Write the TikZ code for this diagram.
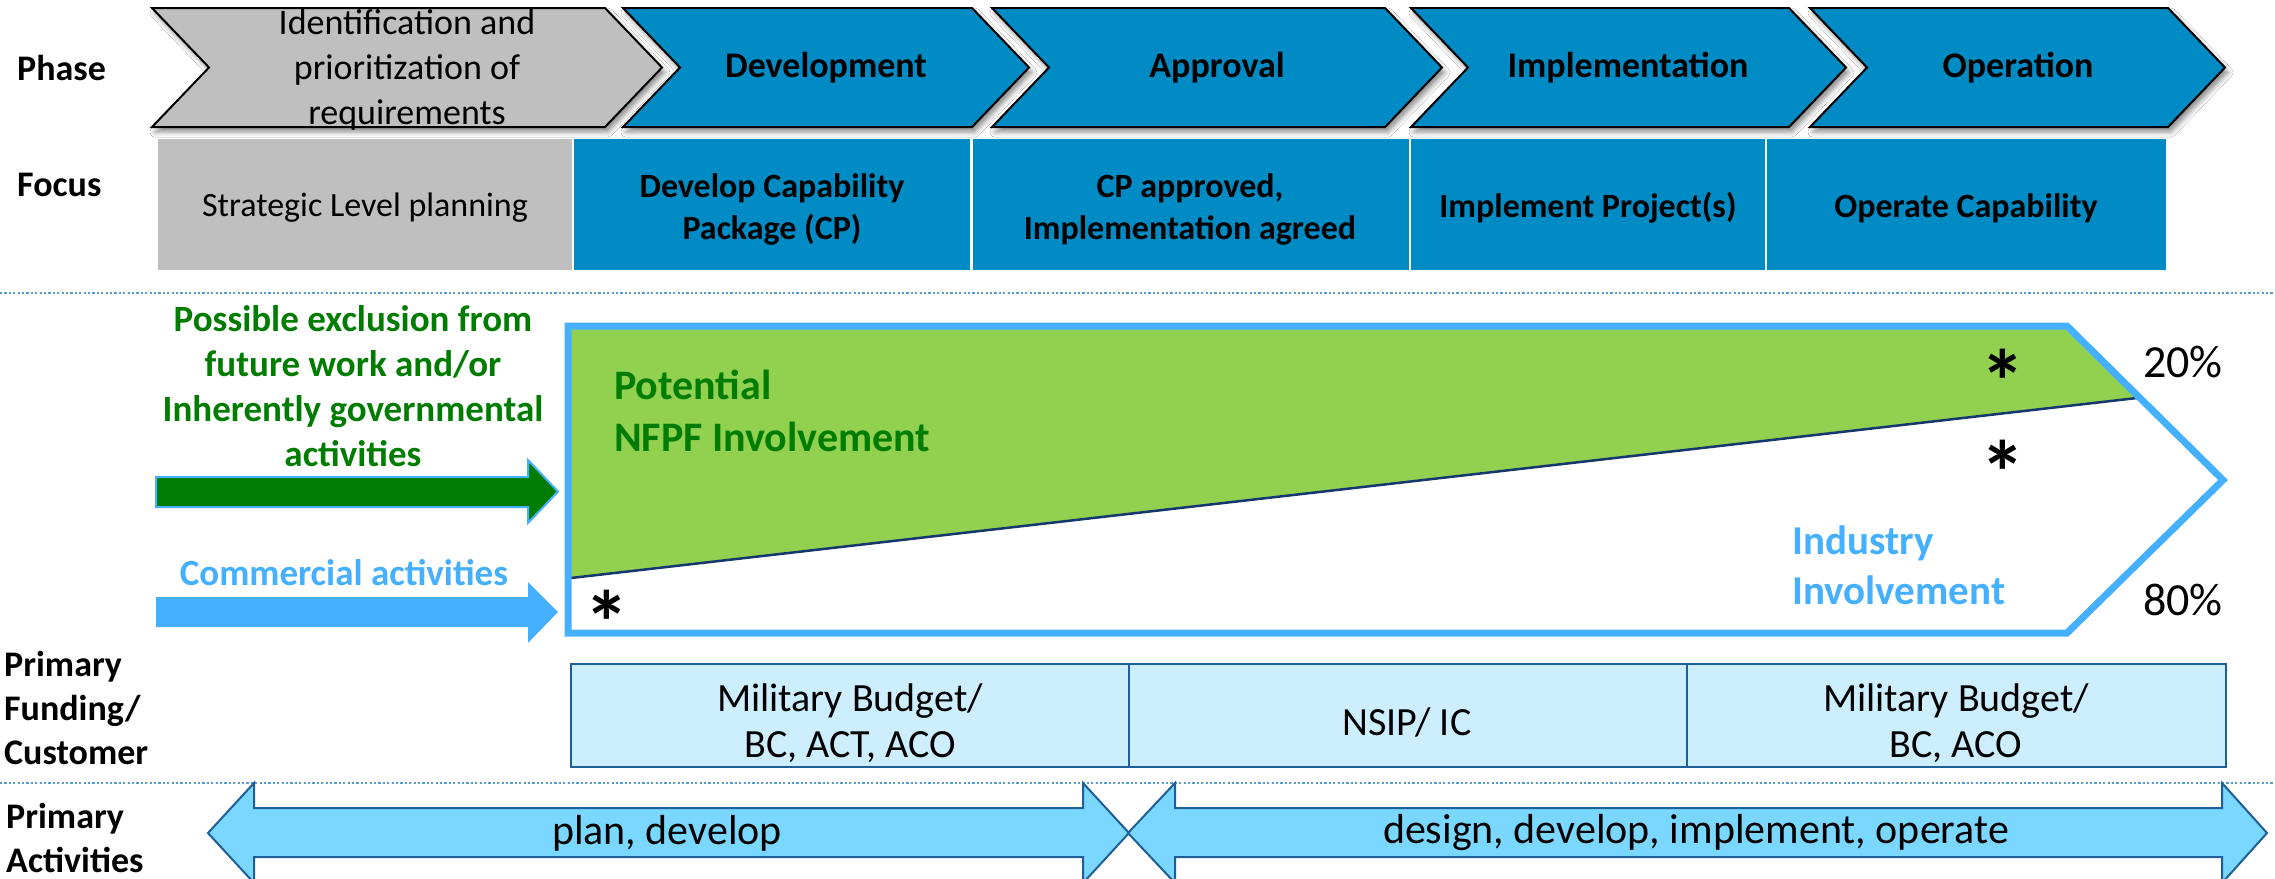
\documentclass[tikz,border=0pt]{standalone}
\usepackage{fontspec}
\setmainfont{Carlito}
\usetikzlibrary{shadows.blur}
\definecolor{phaseblue}{RGB}{0,139,197}
\definecolor{phasegray}{RGB}{191,191,191}
\definecolor{nfpfgreen}{RGB}{146,208,80}
\definecolor{darkgreen}{RGB}{0,125,0}
\definecolor{indblue}{RGB}{69,176,255}
\definecolor{fundfill}{RGB}{204,238,255}
\definecolor{fundline}{RGB}{31,95,153}
\definecolor{actfill}{RGB}{122,215,255}
\definecolor{dotblue}{RGB}{91,155,213}
\definecolor{sepline}{RGB}{20,55,110}
\begin{document}
\begin{tikzpicture}[x=1pt,y=-1pt,
  rowlbl/.style={font=\bfseries\fontsize{36}{44}\selectfont, anchor=west, align=left, inner sep=0pt},
  chevbold/.style={font=\bfseries\fontsize{36}{44}\selectfont, align=center, inner sep=0pt},
  chevreg/.style={font=\fontsize{36}{45}\selectfont, align=center, inner sep=0pt},
  focusbold/.style={font=\bfseries\fontsize{34}{42}\selectfont, align=center, inner sep=0pt},
  focusreg/.style={font=\fontsize{34}{42}\selectfont, align=center, inner sep=0pt},
  chevshape/.style={draw=black, line width=2pt, line join=miter,
     blur shadow={shadow xshift=3pt, shadow yshift=-5pt, shadow blur radius=5pt, shadow opacity=45}},
  fundtxt/.style={font=\fontsize{40}{46}\selectfont, align=center, inner sep=0pt},
  acttxt/.style={font=\fontsize{42}{50}\selectfont, inner sep=0pt},
  dotsep/.style={draw=dotblue, line width=1.6pt, dash pattern=on 2.2pt off 2.2pt},
  greentxt/.style={font=\bfseries\fontsize{37}{45}\selectfont, text=darkgreen, align=center, inner sep=0pt},
  stat/.style={font=\bfseries\fontsize{90}{90}\selectfont, inner sep=0pt},
  pct/.style={font=\fontsize{46}{50}\selectfont, inner sep=0pt}
]
\useasboundingbox (0,0) rectangle (2275,878);
\fill[white] (0,0) rectangle (2275,878);

% ---------- Phase chevrons ----------
\path[chevshape, fill=phasegray] (152,8) -- (605,8) -- (662,67.5) -- (605,127) -- (152,127) -- (209,67.5) -- cycle;
\path[chevshape, fill=phaseblue] (623,8) -- (972,8) -- (1029,67.5) -- (972,127) -- (623,127) -- (680,67.5) -- cycle;
\path[chevshape, fill=phaseblue] (992,8) -- (1385,8) -- (1442,67.5) -- (1385,127) -- (992,127) -- (1049,67.5) -- cycle;
\path[chevshape, fill=phaseblue] (1411,8) -- (1789,8) -- (1846,67.5) -- (1789,127) -- (1411,127) -- (1468,67.5) -- cycle;
\path[chevshape, fill=phaseblue] (1810,8) -- (2168,8) -- (2225,67.5) -- (2168,127) -- (1810,127) -- (1867,67.5) -- cycle;

\node[rowlbl] (phaselbl) at (17,68) {Phase};
\node[chevreg] (ph1) at (407,70) {Identification and\\prioritization of\\requirements};
\node[chevbold] (ph2) at (826,68) {Development};
\node[chevbold] (ph3) at (1217,68) {Approval};
\node[chevbold] (ph4) at (1628,68) {Implementation};
\node[chevbold] (ph5) at (2018,68) {Operation};

% ---------- Focus boxes ----------
\fill[phasegray] (158,139) rectangle (572,270);
\fill[phaseblue] (574,139) rectangle (970,270);
\fill[phaseblue] (973,139) rectangle (1409,270);
\fill[phaseblue] (1411,139) rectangle (1765,270);
\fill[phaseblue] (1767,139) rectangle (2166,270);

\node[rowlbl] (focuslbl) at (17,185) {Focus};
\node[focusreg] (fo1) at (365,208) {Strategic Level planning};
\node[focusbold] (fo2) at (772,209) {Develop Capability\\Package (CP)};
\node[focusbold] (fo3) at (1190,209) {CP approved,\\Implementation agreed};
\node[focusbold] (fo4) at (1588,208) {Implement Project(s)};
\node[focusbold] (fo5) at (1966,208) {Operate Capability};

% ---------- separators ----------
\coordinate (s1a) at (0,293);
\coordinate (s1b) at (2275,293);
\coordinate (s2a) at (0,783);
\coordinate (s2b) at (2275,783);
\draw[dotsep] (s1a) -- (s1b);
\draw[dotsep] (s2a) -- (s2b);

% ---------- Involvement chevron ----------
\fill[nfpfgreen] (568,326) -- (2067,326) -- (2140,398) -- (568,578) -- cycle;
\coordinate (gl) at (571,578);
\coordinate (gr) at (2137,398);
\draw[sepline, line width=2.5pt] (gl) -- (gr);
\draw[indblue, line width=7pt, line join=miter] (568,326) -- (2067,326) -- (2223,480) -- (2067,633) -- (568,633) -- cycle;

\node[font=\bfseries\fontsize{42}{52}\selectfont, text=darkgreen, align=left, anchor=west, inner sep=0pt] (nfpf) at (614,411) {Potential\\NFPF Involvement};
\node[font=\bfseries\fontsize{41}{50}\selectfont, text=indblue, align=left, anchor=west, inner sep=0pt] (industry) at (1792,565) {Industry\\Involvement};
\node[stat] (st1) at (2003,381) {*};
\node[stat] (st2) at (2003,472) {*};
\node[stat] (st3) at (607,622) {*};
\node[pct] (p20) at (2183,362) {20\%};
\node[pct] (p80) at (2183,600) {80\%};

% ---------- left arrows ----------
\node[greentxt] (excl) at (353,386) {Possible exclusion from\\future work and/or\\Inherently governmental\\activities};
\path[fill=darkgreen, draw=indblue, line width=2pt, line join=miter] (156,477) -- (528,477) -- (528,460) -- (558,491.5) -- (528,523) -- (528,507) -- (156,507) -- cycle;
\node[font=\bfseries\fontsize{37}{45}\selectfont, text=indblue, anchor=base, inner sep=0pt] (comm) at (344,585) {Commercial activities};
\path[fill=indblue] (156,597) -- (528,597) -- (528,582) -- (558,612) -- (528,643) -- (528,627) -- (156,627) -- cycle;

% ---------- Funding ----------
\node[rowlbl] (fundlbl) at (4,708) {Primary\\Funding/\\Customer};
\draw[fill=fundfill, draw=fundline, line width=2.5pt] (571,664) rectangle (2226,767);
\coordinate (d1t) at (1129,664);
\coordinate (d1b) at (1129,767);
\coordinate (d2t) at (1687,664);
\coordinate (d2b) at (1687,767);
\draw[fundline, line width=2pt] (d1t) -- (d1b);
\draw[fundline, line width=2pt] (d2t) -- (d2b);
\node[fundtxt] (fu1) at (850,723) {Military Budget/\\BC, ACT, ACO};
\node[fundtxt] (fu2) at (1407,722) {NSIP/ IC};
\node[fundtxt] (fu3) at (1956,723) {Military Budget/\\BC, ACO};

% ---------- Activities ----------
\node[rowlbl] (actlbl) at (6,838) {Primary\\Activities};
\path[fill=actfill, draw=fundline, line width=2pt, line join=miter]
  (208,833) -- (254,783) -- (254,808) -- (1083,808) -- (1083,783) -- (1129,833)
  -- (1083,883) -- (1083,857) -- (254,857) -- (254,883) -- cycle;
\path[fill=actfill, draw=fundline, line width=2pt, line join=miter]
  (1128,833) -- (1175,783) -- (1175,808) -- (2222,808) -- (2222,783) -- (2267,833)
  -- (2222,883) -- (2222,857) -- (1175,857) -- (1175,883) -- cycle;
\node[acttxt] (a1) at (667,833) {plan, develop};
\node[acttxt] (a2) at (1696,833) {design, develop, implement, operate};
\end{tikzpicture}
\end{document}
